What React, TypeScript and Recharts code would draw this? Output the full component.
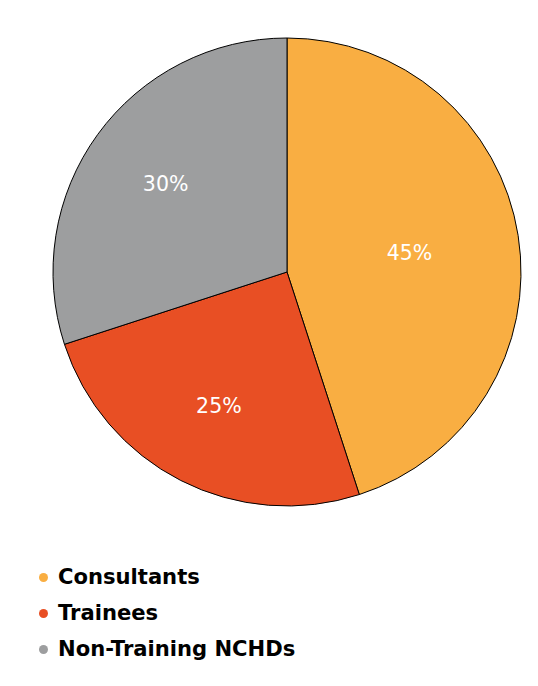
import { PieChart, Pie, Cell, Legend } from "recharts";

// ─── Données ────────────────────────────────────────────────────────────────
const GROUPS = ["Consultants", "Trainees", "Non-Training NCHDs"];
const SHARES = [45, 25, 30];

const COLORS = ["#F9AE42", "#E84F24", "#9D9E9F"];
const FONT = "'DejaVu Sans', sans-serif";

const data = GROUPS.map((name, i) => ({ name, value: SHARES[i] }));

// the big slice has its label pulled in a bit
const labelRadius = (name: string) => (name === "Consultants" ? 124 : 150);

const RAD = Math.PI / 180;

function SliceLabel(props: any) {
  const { cx, cy, midAngle, name, value } = props;
  const r = labelRadius(name);
  const x = cx + r * Math.cos(-midAngle * RAD);
  const y = cy + r * Math.sin(-midAngle * RAD);
  return (
    <text
      x={x}
      y={y}
      fill="#fff"
      textAnchor="middle"
      dominantBaseline="central"
      style={{ fontFamily: FONT, fontSize: 20.5 }}
    >
      {value}%
    </text>
  );
}

function LegendList() {
  return (
    <div style={{ fontFamily: FONT }}>
      {GROUPS.map((g, i) => (
        <div
          key={g}
          style={{ display: "flex", alignItems: "center", height: 36, lineHeight: "36px" }}
        >
          <span
            style={{
              width: 9,
              height: 9,
              borderRadius: "50%",
              background: COLORS[i],
              display: "inline-block",
              marginRight: 10,
            }}
          />
          <span style={{ fontWeight: 700, fontSize: 21.1, color: "#000" }}>{g}</span>
        </div>
      ))}
    </div>
  );
}

export default function App() {
  return (
    <PieChart width={530} height={678} margin={{ top: 0, right: 0, bottom: 0, left: 0 }}>
      <Pie
        data={data}
        dataKey="value"
        nameKey="name"
        cx={279}
        cy={264}
        outerRadius={234}
        startAngle={90}
        endAngle={-270}
        stroke="#000"
        strokeWidth={1}
        label={SliceLabel}
        labelLine={false}
        isAnimationActive={false}
      >
        {data.map((d, i) => (
          <Cell key={d.name} fill={COLORS[i]} />
        ))}
      </Pie>
      <Legend
        content={<LegendList />}
        wrapperStyle={{ position: "absolute", left: 31, top: 551, width: 400 }}
      />
    </PieChart>
  );
}
